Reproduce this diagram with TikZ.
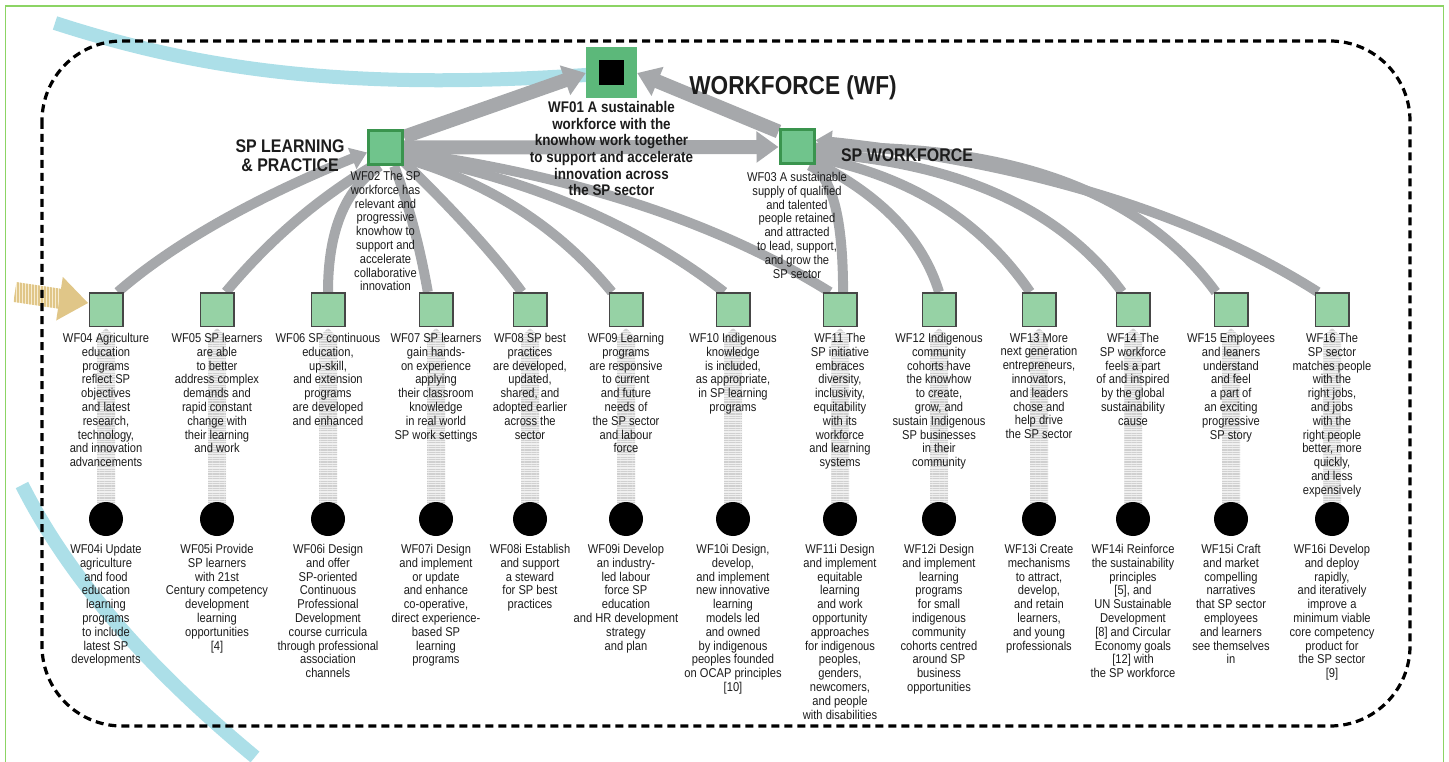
\documentclass[tikz,border=0pt]{standalone}
\usepackage{fontspec}
\setmainfont{Liberation Sans}[FakeStretch=0.87]
\usetikzlibrary{arrows.meta,patterns.meta,calc}
\definecolor{frameg}{RGB}{140,212,100}
\definecolor{swoosh}{RGB}{172,223,232}
\definecolor{tanarrow}{RGB}{224,198,136}
\definecolor{tanlight}{RGB}{247,236,208}
\definecolor{cgray}{RGB}{166,168,171}
\definecolor{shaftgray}{RGB}{208,208,208}
\definecolor{shaftlight}{RGB}{240,240,240}
\definecolor{topgreen}{RGB}{92,184,122}
\definecolor{midfill}{RGB}{112,196,140}
\definecolor{midborder}{RGB}{58,148,78}
\definecolor{subfill}{RGB}{150,210,165}
\definecolor{subborder}{RGB}{70,70,70}
\definecolor{txt}{RGB}{28,28,28}
\pgfdeclarelayer{bg}
\pgfsetlayers{bg,main}
\tikzset{
  conn/.style={draw=cgray, line width=10pt},
  bigconn/.style={draw=cgray, line width=14pt},
  tipsmall/.style={-{Triangle[length=16pt,width=22pt]}},
  tipbig/.style={-{Triangle[length=22pt,width=30pt]}},
  topbox/.style={fill=topgreen, minimum size=51pt, inner sep=0pt},
  blackbox/.style={fill=black, minimum size=25pt, inner sep=0pt},
  midbox/.style={draw=midborder, fill=midfill, line width=3pt, minimum size=34pt, inner sep=0pt},
  subbox/.style={draw=subborder, fill=subfill, line width=1.5pt, minimum size=33.5pt, inner sep=0pt},
  dot/.style={circle, fill=black, minimum size=34pt, inner sep=0pt},
  lbl/.style={align=center, anchor=north, inner sep=0pt, text=txt, font=\fontsize{12.8}{13.8}\selectfont},
  wftext/.style={align=center, anchor=north, inner sep=0pt, text=txt, font=\bfseries\fontsize{15.4}{16.7}\selectfont},
  headbig/.style={inner sep=0pt, text=txt, font=\bfseries\fontsize{26}{30}\selectfont},
  headsub/.style={align=center, inner sep=0pt, text=txt, font=\bfseries\fontsize{18.3}{19}\selectfont},
  shaft/.style={preaction={fill=shaftlight}, pattern={Lines[angle=0,distance=2.4pt,line width=1.1pt]}, pattern color=shaftgray},
  borderdash/.style={draw=black, line width=3.2pt, dash pattern=on 8pt off 5pt, rounded corners=80pt},
}
\begin{document}
\begin{tikzpicture}[x=1pt,y=-1pt]
\useasboundingbox (0,0) rectangle (1449,762);

% ---- nodes ----
\node[topbox] (wf01) at (611.5,73) {};
\node[blackbox] (wf01c) at (wf01.center) {};
\node[midbox] (wf02) at (385.5,147.5) {};
\node[midbox] (wf03) at (797,147) {};
\foreach \i/\x in {04/106,05/217,06/328,07/436,08/530,09/626,10/733,11/840,12/939,13/1039,14/1133,15/1231,16/1332}{
  \node[subbox] (wf\i) at (\x,309.5) {};
  \node[dot] (d\i) at (\x,519) {};
}

% ---- headings ----
\node[headbig] (hwf) at (793,88) {WORKFORCE (WF)};
\node[headsub] (hspl) at (290,155.5) {SP LEARNING\\\& PRACTICE};
\node[headsub] (hspw) at (907,155) {SP WORKFORCE};

% ---- texts ----
\node[wftext] (t01) at (611.5,101) {WF01 A sustainable\\workforce with the\\knowhow work together\\to support and accelerate\\innovation across\\the SP sector};
\node[lbl] (t02) at (385.5,171) {WF02 The SP\\workforce has\\relevant and\\progressive\\knowhow to\\support and\\accelerate\\collaborative\\innovation};
\node[lbl] (t03) at (797,172) {WF03 A sustainable\\supply of qualified\\and talented\\people retained\\and attracted\\to lead, support,\\and grow the\\SP sector};

\node[lbl] (t04) at (106,333) {WF04 Agriculture\\education\\programs\\reflect SP\\objectives\\and latest\\research,\\technology,\\and innovation\\advancements};
\node[lbl] (t05) at (217,333) {WF05 SP learners\\are able\\to better\\address complex\\demands and\\rapid constant\\change with\\their learning\\and work};
\node[lbl] (t06) at (328,333) {WF06 SP continuous\\education,\\up-skill,\\and extension\\programs\\are developed\\and enhanced};
\node[lbl] (t07) at (436,333) {WF07 SP learners\\gain hands-\\on experience\\applying\\their classroom\\knowledge\\in real world\\SP work settings};
\node[lbl] (t08) at (530,333) {WF08 SP best\\practices\\are developed,\\updated,\\shared, and\\adopted earlier\\across the\\sector};
\node[lbl] (t09) at (626,333) {WF09 Learning\\programs\\are responsive\\to current\\and future\\needs of\\the SP sector\\and labour\\force};
\node[lbl] (t10) at (733,333) {WF10 Indigenous\\knowledge\\is included,\\as appropriate,\\in SP learning\\programs};
\node[lbl] (t11) at (840,333) {WF11 The\\SP initiative\\embraces\\diversity,\\inclusivity,\\equitability\\with its\\workforce\\and learning\\systems};
\node[lbl] (t12) at (939,333) {WF12 Indigenous\\community\\cohorts have\\the knowhow\\to create,\\grow, and\\sustain Indigenous\\SP businesses\\in their\\community};
\node[lbl] (t13) at (1039,333) {WF13 More\\next generation\\entrepreneurs,\\innovators,\\and leaders\\chose and\\help drive\\the SP sector};
\node[lbl] (t14) at (1133,333) {WF14 The\\SP workforce\\feels a part\\of and inspired\\by the global\\sustainability\\cause};
\node[lbl] (t15) at (1231,333) {WF15 Employees\\and leaners\\understand\\and feel\\a part of\\an exciting\\progressive\\SP story};
\node[lbl] (t16) at (1332,333) {WF16 The\\SP sector\\matches people\\with the\\right jobs,\\and jobs\\with the\\right people\\better, more\\quickly,\\and less\\expensively};

\node[lbl] (i04) at (106,544) {WF04i Update\\agriculture\\and food\\education\\learning\\programs\\to include\\latest SP\\developments};
\node[lbl] (i05) at (217,544) {WF05i Provide\\SP learners\\with 21st\\Century competency\\development\\learning\\opportunities\\{[4]}};
\node[lbl] (i06) at (328,544) {WF06i Design\\and offer\\SP-oriented\\Continuous\\Professional\\Development\\course curricula\\through professional\\association\\channels};
\node[lbl] (i07) at (436,544) {WF07i Design\\and implement\\or update\\and enhance\\co-operative,\\direct experience-\\based SP\\learning\\programs};
\node[lbl] (i08) at (530,544) {WF08i Establish\\and support\\a steward\\for SP best\\practices};
\node[lbl] (i09) at (626,544) {WF09i Develop\\an industry-\\led labour\\force SP\\education\\and HR development\\strategy\\and plan};
\node[lbl] (i10) at (733,544) {WF10i Design,\\develop,\\and implement\\new innovative\\learning\\models led\\and owned\\by indigenous\\peoples founded\\on OCAP principles\\{[10]}};
\node[lbl] (i11) at (840,544) {WF11i Design\\and implement\\equitable\\learning\\and work\\opportunity\\approaches\\for indigenous\\peoples,\\genders,\\newcomers,\\and people\\with disabilities};
\node[lbl] (i12) at (939,544) {WF12i Design\\and implement\\learning\\programs\\for small\\indigenous\\community\\cohorts centred\\around SP\\business\\opportunities};
\node[lbl] (i13) at (1039,544) {WF13i Create\\mechanisms\\to attract,\\develop,\\and retain\\learners,\\and young\\professionals};
\node[lbl] (i14) at (1133,544) {WF14i Reinforce\\the sustainability\\principles\\{[5]}, and\\UN Sustainable\\Development\\{[8]} and Circular\\Economy goals\\{[12]} with\\the SP workforce};
\node[lbl] (i15) at (1231,544) {WF15i Craft\\and market\\compelling\\narratives\\that SP sector\\employees\\and learners\\see themselves\\in};
\node[lbl] (i16) at (1332,544) {WF16i Develop\\and deploy\\rapidly,\\and iteratively\\improve a\\minimum viable\\core competency\\product for\\the SP sector\\{[9]}};

% ---- background ----
\begin{pgfonlayer}{bg}
\draw[frameg, line width=1.5pt] (5.5,6) rectangle (1443.5,790);
\draw[swoosh, line width=14pt] (55,23) .. controls (200,70) and (350,92) .. (600,74);
\draw[swoosh, line width=14pt] (22,485) .. controls (70,580) and (150,670) .. (255,757);
% tan arrow
\fill[tanlight] (16.5,282.1) -- (63,289.1) -- (60,308.9) -- (13.5,301.9) -- cycle;
\fill[pattern={Lines[angle=90,distance=3pt,line width=1.5pt]}, pattern color=tanarrow] (16.5,282.1) -- (63,289.1) -- (60,308.9) -- (13.5,301.9) -- cycle;
\fill[tanarrow] (62.8,276.9) -- (88,303) -- (56.2,320.5) -- cycle;
% dashed border
\draw[borderdash] (42,41) rectangle (1410,726);

% connectors to WF02
\draw[conn,tipsmall] (wf04.56) .. controls (172.7,244) and (255.7,197.5) .. (wf02.195);
\draw[conn] (wf05.63) .. controls (268.7,240.7) and (317.5,198.7) .. (wf02.235);
\draw[conn] (wf06.north) .. controls (328,230.7) and (345.3,188.7) .. (wf02.253);
\draw[conn] (wf07.115) .. controls (419.3,244) and (408,202) .. (wf02.295);
\draw[conn] (wf08.115) .. controls (496,256.7) and (456.7,213.3) .. (wf02.322);
\draw[conn] (wf09.129) .. controls (558.7,227.3) and (489.3,182.7) .. (wf02.330);
\draw[conn] (wf10.117) .. controls (638.7,225.7) and (532,180) .. (wf02.338);
\draw[conn] (wf11.120) .. controls (718.7,222.7) and (576.7,176) .. (wf02.346);
% connectors to WF03
\draw[conn] (wf11.80) .. controls (843,217.3) and (832,175.3) .. (wf03.304);
\draw[conn] (wf12.north) .. controls (922.7,239) and (881.7,196) .. (wf03.320);
\draw[conn] (wf13.117) .. controls (981.3,220.7) and (910,176) .. (wf03.330);
\draw[conn] (wf14.122) .. controls (1061.3,209) and (959.3,162.7) .. (wf03.342);
\draw[conn] (wf15.131) .. controls (1141.3,190.7) and (1008,142.7) .. (wf03.358);
\draw[conn,tipsmall] (wf16.129) .. controls (1194,213.3) and (1027.3,162.7) .. (wf03.20);
% main arrows
\draw[bigconn,tipbig] (wf02.30) -- (wf01.west);
\draw[bigconn,tipbig] (wf03.140) -- (wf01.east);
\draw[bigconn,tipbig] (wf02.east) -- (wf03.west);

% hatched shafts from dots to boxes
\foreach \i in {04,05,06,07,08,09,10,11,12,13,14,15,16}{
  \fill[shaft] ([xshift=-9pt]d\i.center) -- ([xshift=-9pt,yshift=-12pt]wf\i.south) -- ([xshift=-11pt,yshift=-12pt]wf\i.south) -- ([yshift=-1pt]wf\i.south) -- ([xshift=11pt,yshift=-12pt]wf\i.south) -- ([xshift=9pt,yshift=-12pt]wf\i.south) -- ([xshift=9pt]d\i.center) -- cycle;
}
\end{pgfonlayer}
\end{tikzpicture}
\end{document}
